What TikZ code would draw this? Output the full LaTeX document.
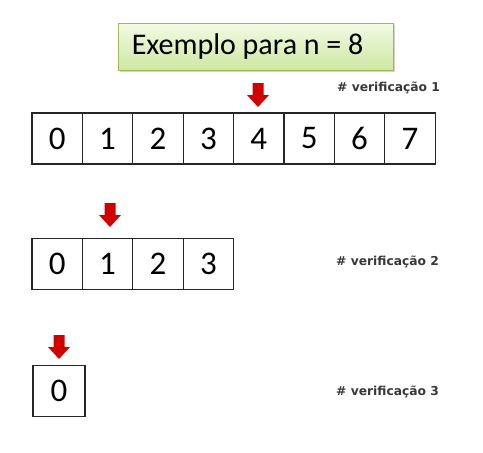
\documentclass[tikz,border=0pt]{standalone}
\usepackage{fontspec}
\setmainfont{Carlito}
\newfontfamily\verifont{DejaVu Sans}
\usetikzlibrary{shadows}
\definecolor{arrred}{HTML}{D00000}
\definecolor{titleborder}{HTML}{9BBB59}
\definecolor{titletop}{HTML}{F2FAE4}
\definecolor{titlebot}{HTML}{CDE8A2}
\definecolor{verigray}{HTML}{383838}
\newcommand{\myredarrow}[2]{%
  \fill[arrred] ({#1-5.5},{#2-24}) -- ({#1+5.5},{#2-24}) -- ({#1+5.5},{#2-12}) -- ({#1+11},{#2-12}) -- ({#1},{#2}) -- ({#1-11},{#2-12}) -- ({#1-5.5},{#2-12}) -- cycle;}
\begin{document}
\begin{tikzpicture}[x=1pt,y=-1pt,
  cell/.style={draw=black!85, line width=1.3pt, minimum width=50.4pt, minimum height=51pt, inner sep=0pt, outer sep=0pt, font=\fontsize{33}{36}\selectfont},
  titlebox/.style={draw=titleborder, line width=0.8pt, top color=titletop, bottom color=titlebot, minimum width=275pt, minimum height=47pt, inner sep=0pt, drop shadow={shadow xshift=2pt, shadow yshift=-2pt, opacity=0.35}},
  titletext/.style={font=\fontsize{30}{34}\selectfont, anchor=west, inner sep=0pt},
  verif/.style={text=verigray, font=\verifont\bfseries\fontsize{12.3}{14}\selectfont, anchor=west, inner sep=0pt}
]
\useasboundingbox (0,0) rectangle (483,453);
\fill[white] (0,0) rectangle (483,453);

% title
\node[titlebox] (title) at (255.5,46.5) {};
\node[titletext] (titlet) at ([xshift=14pt]title.west) {Exemplo para n = 8};

% row 1
\foreach \i in {0,...,7} {
  \node[cell] (a\i) at ({32+25.2+50.4*\i},138.5) {\i};
}
% row 2
\foreach \i in {0,...,3} {
  \node[cell] (b\i) at ({32+25.2+50.4*\i},264) {\i};
}
% row 3
\node[cell, minimum width=52pt] (c0) at (59,391) {0};

% labels
\node[verif] (v1) at (337,87.5) {\# verificação 1};
\node[verif] (v2) at (336,262) {\# verificação 2};
\node[verif] (v3) at (336,392) {\# verificação 3};

% red arrows
\myredarrow{258}{107}
\myredarrow{110}{227}
\myredarrow{59}{359}
\end{tikzpicture}
\end{document}
